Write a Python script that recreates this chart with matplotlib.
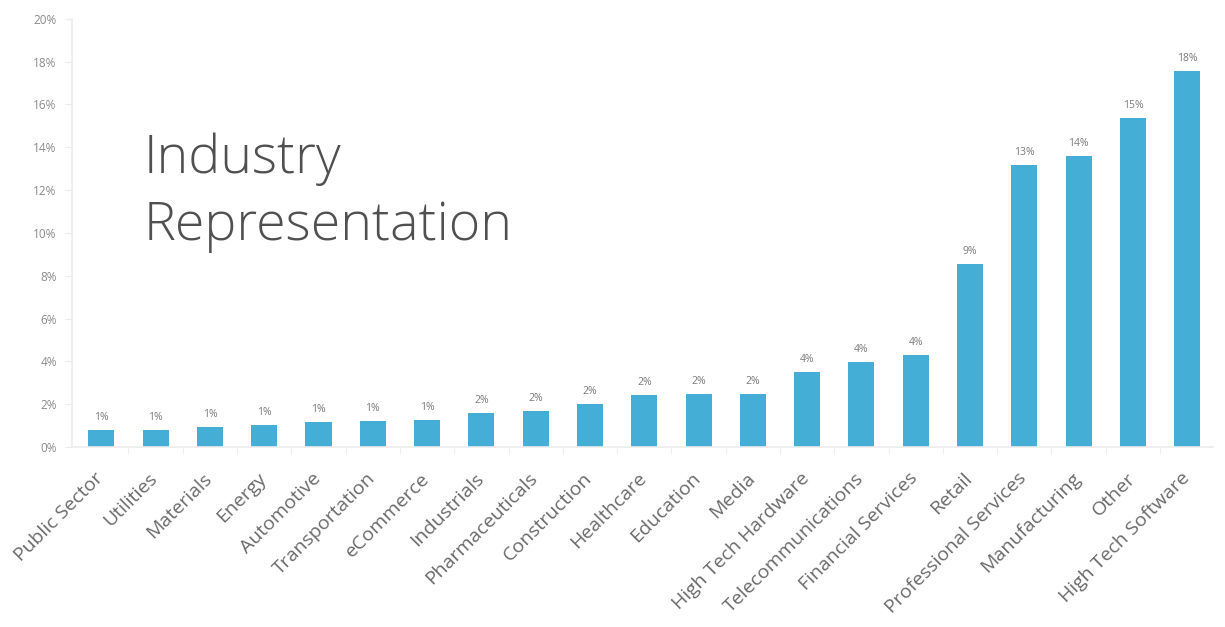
import numpy as np
import matplotlib
matplotlib.use("Agg")
import matplotlib.pyplot as plt
from matplotlib.transforms import ScaledTranslation

plt.rcParams['font.family'] = ['Open Sans', 'DejaVu Sans']

industries = [
    "Public Sector", "Utilities", "Materials", "Energy", "Automotive",
    "Transportation", "eCommerce", "Industrials", "Pharmaceuticals",
    "Construction", "Healthcare", "Education", "Media", "High Tech Hardware",
    "Telecommunications", "Financial Services", "Retail",
    "Professional Services", "Manufacturing", "Other", "High Tech Software",
]
share_pct = [
    0.80, 0.80, 0.95, 1.03, 1.18,
    1.20, 1.25, 1.60, 1.68,
    2.00, 2.43, 2.48, 2.48, 3.50,
    3.96, 4.30, 8.54,
    13.18, 13.60, 15.36, 17.58,
]
y_ticks = [0, 2, 4, 6, 8, 10, 12, 14, 16, 18, 20]

bar_color = "#45aed6"
axis_color = "#ececec"

fig = plt.figure(figsize=(12.25, 6.27), dpi=100)
ax = fig.add_axes([0.0588, 0.287, 0.9312, 0.683])

x = np.arange(len(industries))
ax.bar(x, share_pct, width=0.48, color=bar_color, zorder=2)

# value labels above each bar, rounded to whole percent
for xi, v in zip(x, share_pct):
    ax.annotate(f"{int(np.floor(v + 0.5))}%", (xi, v), xytext=(0, 5),
                textcoords="offset points", ha="center", va="bottom",
                fontsize=7.5, color="#7a7a7a")

ax.set_xlim(-0.54, len(industries) - 1 + 0.47)
ax.set_ylim(0, 20)
ax.set_yticks(y_ticks)
ax.set_yticklabels([f"{t}%" for t in y_ticks], fontsize=8.5, color="#8a8a8a")
ax.tick_params(axis="y", length=5, color=axis_color, pad=6)

ax.set_xticks(x)
ax.set_xticklabels(industries, rotation=45, ha="right", va="top",
                   rotation_mode="anchor", fontsize=14, color="#6a6a6a")
ax.tick_params(axis="x", which="major", length=0, pad=16)
ax.set_xticks(x[:-1] + 0.5, minor=True)
ax.tick_params(axis="x", which="minor", length=5, color="#f3eaea")

shift = ScaledTranslation(-0.07, 0, fig.dpi_scale_trans)
for lbl in ax.get_xticklabels():
    lbl.set_transform(lbl.get_transform() + shift)

for side in ("top", "right"):
    ax.spines[side].set_visible(False)
for side in ("left", "bottom"):
    ax.spines[side].set_color(axis_color)
    ax.spines[side].set_linewidth(1.2)

fig.text(0.117, 0.6172, "Industry\nRepresentation", fontsize=38.7,
         fontweight="light", color="#505050", ha="left", va="baseline",
         linespacing=1.33)

fig.savefig("out.png", dpi=100, facecolor="white")
